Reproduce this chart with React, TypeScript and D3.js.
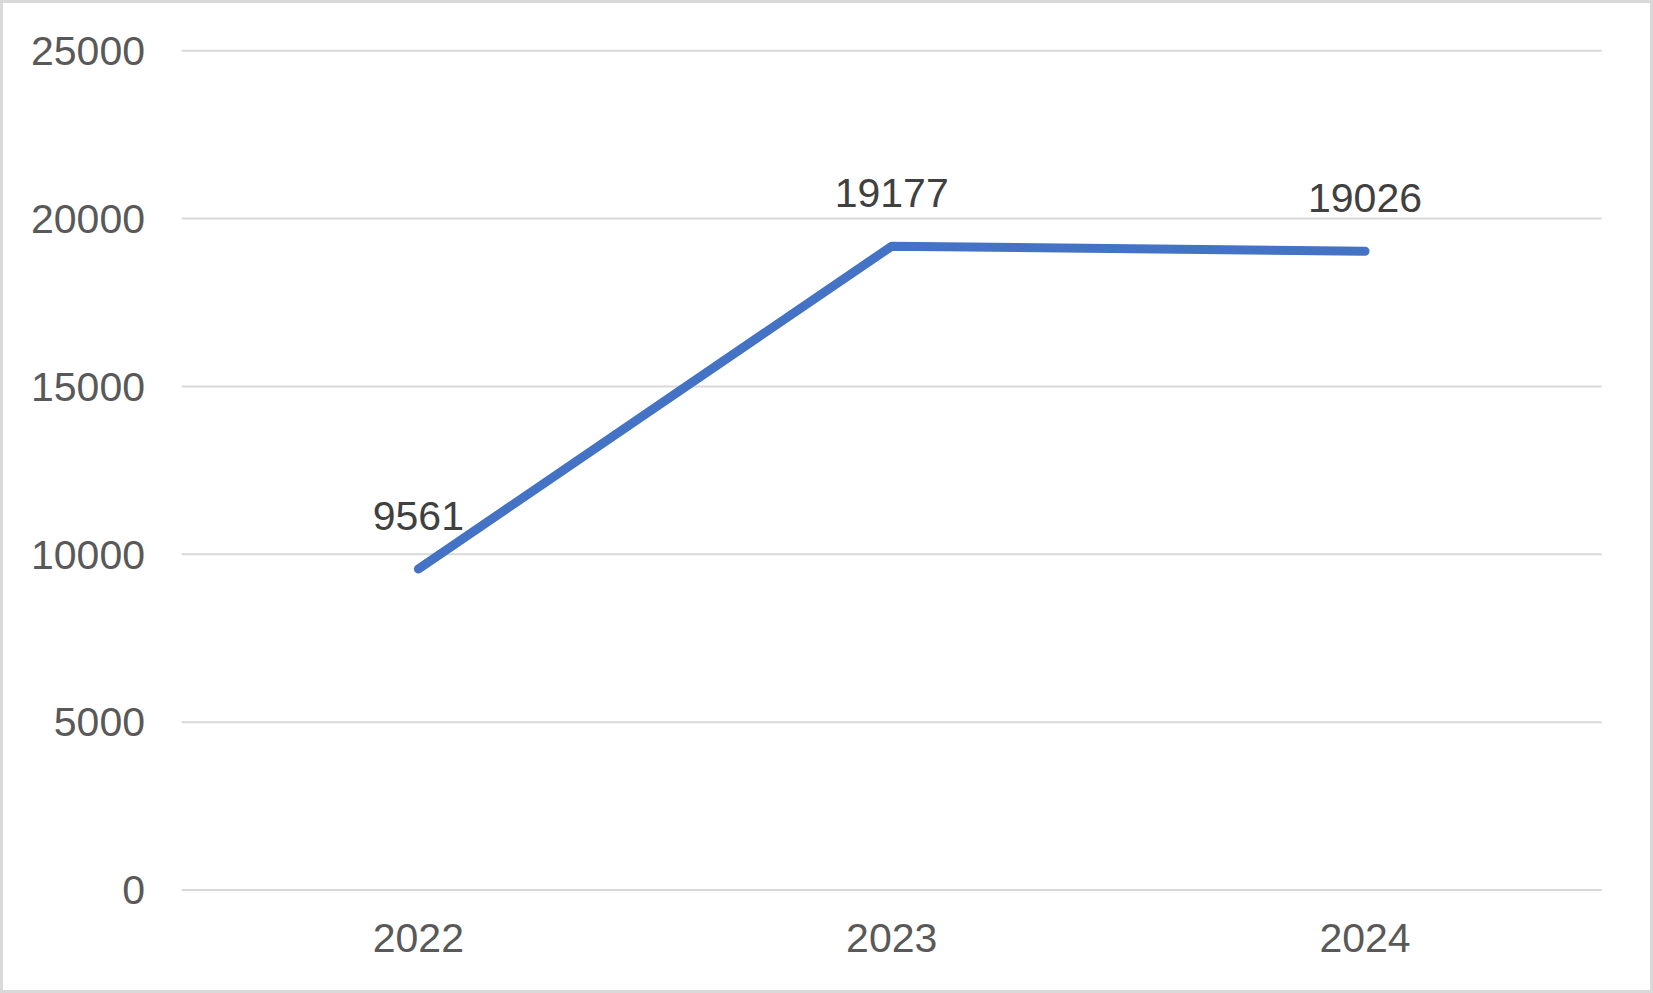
import React from "react";
import * as d3 from "d3";

const categories = ["2022", "2023", "2024"];
const values = [9561, 19177, 19026];
const yTicks = [0, 5000, 10000, 15000, 20000, 25000];

const W = 1653;
const H = 993;
const FONT = "'Liberation Sans', Arial, sans-serif";

export default function App() {
  const left = 181.7;
  const right = 1601.7;
  const top = 50.7;
  const bottom = 890;

  const x = d3.scaleBand<string>().domain(categories).range([left, right]);
  const y = d3.scaleLinear().domain([0, 25000]).range([bottom, top]);
  const cx = (c: string) => (x(c) as number) + x.bandwidth() / 2;

  const line = d3
    .line<number>()
    .x((_, i) => cx(categories[i]))
    .y((d) => y(d));

  return (
    <svg
      width={W}
      height={H}
      style={{ position: "absolute", left: 0, top: 0, background: "#fff" }}
      fontFamily={FONT}
    >
      <rect x={1.5} y={1.5} width={W - 3} height={H - 3} fill="#fff" stroke="#d9d9d9" strokeWidth={3} />
      {yTicks.map((t) => (
        <g key={t}>
          <line x1={left} x2={right} y1={y(t)} y2={y(t)} stroke="#d9d9d9" strokeWidth={2} />
          <text
            x={145}
            y={y(t)}
            dy="0.35em"
            textAnchor="end"
            fontSize={41}
            fill="#595959"
          >
            {t}
          </text>
        </g>
      ))}
      {categories.map((c) => (
        <text key={c} x={cx(c)} y={952} textAnchor="middle" fontSize={41} fill="#595959">
          {c}
        </text>
      ))}
      <path
        d={line(values) || ""}
        fill="none"
        stroke="#4472C4"
        strokeWidth={9}
        strokeLinecap="round"
        strokeLinejoin="round"
      />
      {values.map((v, i) => (
        <text
          key={i}
          x={cx(categories[i])}
          y={y(v) - 39}
          textAnchor="middle"
          fontSize={41}
          fill="#404040"
        >
          {v}
        </text>
      ))}
    </svg>
  );
}
